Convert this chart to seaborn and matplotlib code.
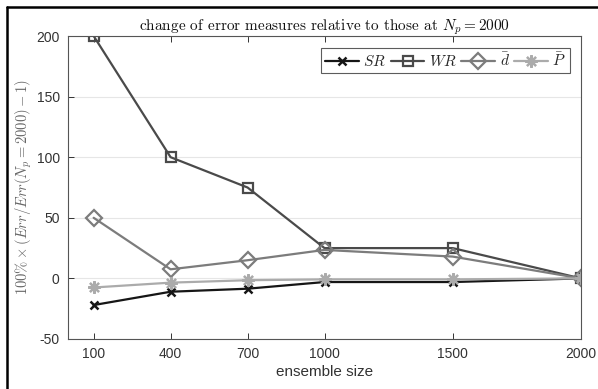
import matplotlib
matplotlib.use("Agg")
import matplotlib.pyplot as plt
from matplotlib.lines import Line2D
import seaborn as sns
import pandas as pd

# ---- data ----
ensemble_sizes = [100, 400, 700, 1000, 1500, 2000]
sr_vals = [-22, -11, -8.5, -3, -3, 0]
wr_vals = [200, 100, 75, 25, 25, 0]
d_vals = [50, 7.5, 15, 23.5, 18, 0]
p_vals = [-7.5, -3.5, -1.5, -0.8, -0.8, 0]
series_labels = [r"$SR$", r"$WR$", r"$\bar{d}$", r"$\bar{P}$"]
x_ticks = [100, 400, 700, 1000, 1500, 2000]
y_ticks = [-50, 0, 50, 100, 150, 200]

sns.set_theme(style="white")
plt.rcParams["font.family"] = ["Liberation Sans", "DejaVu Sans"]
plt.rcParams["mathtext.fontset"] = "cm"
plt.rcParams["axes.unicode_minus"] = False

fig = plt.figure(figsize=(5.98, 3.89), dpi=100)
ax = fig.add_axes([68 / 598, (389 - 339) / 389, (581 - 68) / 598, (339 - 36) / 389])

styles = [
    dict(color="#161616", marker="x", ms=6, mew=1.8, mfc="none"),
    dict(color="#4a4a4a", marker="s", ms=7, mew=1.6, mfc="none"),
    dict(color="#7c7c7c", marker="D", ms=8.5, mew=1.6, mfc="none"),
    dict(color="#ababab", marker=(8, 2, 0), ms=9, mew=1.6, mfc="none"),
]
all_vals = [sr_vals, wr_vals, d_vals, p_vals]

handles = []
for vals, st, lab in zip(all_vals, styles, series_labels):
    df = pd.DataFrame({"x": ensemble_sizes, "y": vals})
    sns.lineplot(data=df, x="x", y="y", ax=ax, color=st["color"], lw=1.6,
                 marker=st["marker"], markersize=st["ms"], markeredgewidth=st["mew"],
                 markerfacecolor=st["mfc"], markeredgecolor=st["color"], legend=False)
    handles.append(Line2D([], [], color=st["color"], lw=1.6, marker=st["marker"],
                          markersize=st["ms"], markeredgewidth=st["mew"],
                          markerfacecolor=st["mfc"], markeredgecolor=st["color"], label=lab))

ax.set_xlim(0, 2000)
ax.set_ylim(-50, 200)
ax.set_xticks(x_ticks)
ax.set_yticks(y_ticks)
ax.yaxis.grid(True, color="#e6e6e6", lw=0.8)
ax.xaxis.grid(False)
ax.set_axisbelow(True)
for sp in ax.spines.values():
    sp.set_visible(True)
    sp.set_color("#555555")
    sp.set_linewidth(0.8)
ax.tick_params(axis="both", direction="in", length=4, width=0.7, color="#333333",
               labelsize=10, labelcolor="#333333", pad=6)
ax.tick_params(axis="x", top=True, bottom=True)
ax.tick_params(axis="y", left=True, right=False)

ax.set_xlabel("ensemble size", fontsize=11, color="#333333", labelpad=3)
ax.set_ylabel(r"$100\% \times (Err/Err(N_p = 2000) - 1)$", fontsize=10.5, color="#666666", labelpad=2)
ax.set_title(r"change of error measures relative to those at $N_p = 2000$",
             fontsize=11, family="cmr10", color="#111111", pad=4)

leg = ax.legend(handles=handles, loc="upper right", ncol=4, frameon=True,
                fancybox=False, edgecolor="#333333", fontsize=11, handlelength=2.2,
                handletextpad=0.3, columnspacing=0.3, borderpad=0.25,
                bbox_to_anchor=(0.978, 0.96), borderaxespad=0)
leg.get_frame().set_linewidth(0.8)

# figure border (top and left only)
fig.add_artist(Line2D([7 / 598, 7 / 598], [0, 1 - 7 / 389], color="black", lw=1.8,
                      transform=fig.transFigure))
fig.add_artist(Line2D([7 / 598, 1], [1 - 7 / 389, 1 - 7 / 389], color="black", lw=1.8,
                      transform=fig.transFigure))

fig.savefig("out.png", dpi=100)
